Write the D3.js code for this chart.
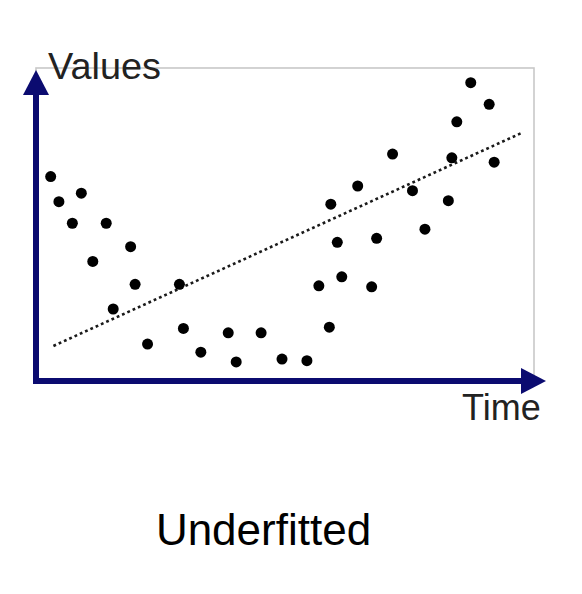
<!DOCTYPE html>
<html>
<head>
<meta charset="utf-8">
<script src="https://cdn.jsdelivr.net/npm/d3@7"></script>
<style>
html,body{margin:0;padding:0;background:#fff;}
svg{display:block;}
</style>
</head>
<body>
<svg id="chart" width="582" height="594"></svg>
<script>
// Data (Time 0-100, Values 0-100)
const timeValues = [2.95,4.6,9.1,7.3,14.1,19.0,11.4,19.9,28.8,15.5,29.6,22.4,38.6,45.2,33.1,40.2,49.4,54.4,58.9,56.8,61.4,67.4,60.5,68.4,59.2,64.6,71.6,75.6,78.1,82.8,83.5,84.5,87.3,91.0,92.0];
const valueValues = [65.3,57.3,60.0,50.4,50.4,42.9,38.2,30.9,30.9,23.0,16.8,11.8,15.4,15.4,9.2,6.1,7.0,6.5,17.2,30.4,33.3,30.1,44.3,45.6,56.5,62.3,72.5,60.8,48.5,57.6,71.3,82.8,95.3,88.4,69.9];
const trendTime = [3.5, 97.3];
const trendValue = [11.2, 79.1];
const yLabel = "Values";
const xLabel = "Time";
const title = "Underfitted";

const svg = d3.select("#chart");
const x = d3.scaleLinear().domain([0,100]).range([36,534]);
const y = d3.scaleLinear().domain([0,100]).range([381,68]);

const axisColor = "#0b0b70";
const font = "'Liberation Sans', Arial, sans-serif";

// gray frame
svg.append("rect")
  .attr("x", x(0)).attr("y", y(100))
  .attr("width", x(100)-x(0)).attr("height", y(0)-y(100))
  .attr("fill","none").attr("stroke","#c8c8c8").attr("stroke-width",1.6);

// trend line (dotted)
const pts = trendTime.map((t,i)=>[t, trendValue[i]]);
svg.append("path")
  .attr("d", d3.line().x(d=>x(d[0])).y(d=>y(d[1]))(pts))
  .attr("fill","none").attr("stroke","#1a1a1a").attr("stroke-width",2.6)
  .attr("stroke-dasharray","2.8,3");

// scatter points
const data = timeValues.map((t,i)=>({t, v:valueValues[i]}));
svg.append("g").selectAll("circle").data(data).join("circle")
  .attr("cx", d=>x(d.t)).attr("cy", d=>y(d.v)).attr("r",5.5)
  .attr("fill","#000");

// axes with arrowheads
const x0 = x(0), y0 = y(0);
const yTip = y(100) + 2, xTip = x(100) + 12;
const head = 25, halfW = 13;
svg.append("line")
  .attr("x1", x0).attr("y1", y0+3).attr("x2", x0).attr("y2", yTip+head-1)
  .attr("stroke", axisColor).attr("stroke-width", 6);
svg.append("path")
  .attr("d", `M${x0},${yTip} L${x0+halfW},${yTip+head} L${x0-halfW},${yTip+head} Z`)
  .attr("fill", axisColor);
svg.append("line")
  .attr("x1", x0-3).attr("y1", y0).attr("x2", xTip-head+1).attr("y2", y0)
  .attr("stroke", axisColor).attr("stroke-width", 6);
svg.append("path")
  .attr("d", `M${xTip},${y0} L${xTip-head},${y0-halfW} L${xTip-head},${y0+halfW} Z`)
  .attr("fill", axisColor);

// labels
svg.append("text").attr("x", 48).attr("y", 78.5)
  .attr("font-family", font).attr("font-size", 36).attr("fill","#222")
  .attr("textLength", 113).attr("lengthAdjust","spacingAndGlyphs")
  .text(yLabel);
svg.append("text").attr("x", 462).attr("y", 419.5)
  .attr("font-family", font).attr("font-size", 36).attr("fill","#222")
  .text(xLabel);
svg.append("text").attr("x", 263.5).attr("y", 545)
  .attr("text-anchor","middle")
  .attr("font-family", font).attr("font-size", 44).attr("fill","#000")
  .text(title);
</script>
</body>
</html>
